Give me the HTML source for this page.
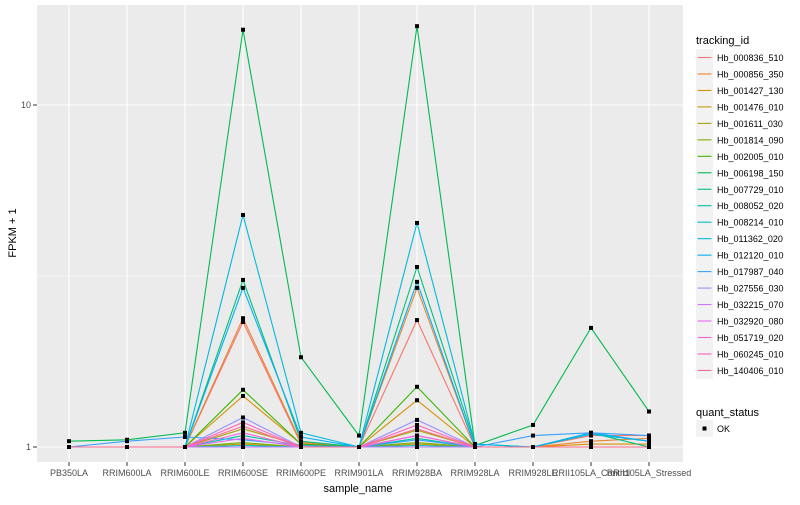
<!DOCTYPE html>
<html><head><meta charset="utf-8"><style>
body{margin:0;background:#fff;font-family:"Liberation Sans",sans-serif}
svg text{font-family:"Liberation Sans",sans-serif}
</style></head><body>
<svg id="chart" width="800" height="500" xmlns="http://www.w3.org/2000/svg">
<rect x="37" y="5" width="646" height="457" fill="#ebebeb"/>
<g id="grid"></g><g id="lines"></g><g id="pts"></g><g id="axes"></g><g id="legend"></g>
<text transform="translate(16,233) rotate(-90)" text-anchor="middle" font-size="11" fill="#000">FPKM + 1</text>
<text x="358" y="492" text-anchor="middle" font-size="11" fill="#000">sample_name</text>
</svg>
<script>
const categories=["PB350LA","RRIM600LA","RRIM600LE","RRIM600SE","RRIM600PE","RRIM901LA","RRIM928BA","RRIM928LA","RRIM928LE","RRII105LA_Control","RRII105LA_Stressed"];
const seriesNames=["Hb_000836_510","Hb_000856_350","Hb_001427_130","Hb_001476_010","Hb_001611_030","Hb_001814_090","Hb_002005_010","Hb_006198_150","Hb_007729_010","Hb_008052_020","Hb_008214_010","Hb_011362_020","Hb_012120_010","Hb_017987_040","Hb_027556_030","Hb_032215_070","Hb_032920_080","Hb_051719_020","Hb_060245_010","Hb_140406_010"];
const seriesColors=["#F8766D","#EA8331","#D89000","#C09B00","#A3A500","#7CAE00","#39B600","#00BB4E","#00BF7D","#00C1A3","#00BFC4","#00BAE0","#00B0F6","#35A2FF","#9590FF","#C77CFF","#E76BF3","#FA62DB","#FF62BC","#FF6C91"];
const s01=[1,1,1,2.32,1.02,1,2.35,1,1,1.08,1.08];
const s02=[1,1,1,2.38,1.03,1,2.92,1,1,1.04,1.06];
const s03=[1,1,1,1.41,1.02,1,1.37,1,1,1.02,1.02];
const s04=[1,1,1,1.02,1,1,1.02,1,1,1,1];
const s05=[1,1,1,1.13,1.01,1,1.12,1,1,1,1];
const s06=[1,1,1,1.03,1,1,1.03,1,1,1,1];
const s07=[1,1,1,1.47,1.02,1,1.50,1,1,1,1];
const s08=[1.04,1.05,1.10,16.6,1.83,1.08,17.0,1.01,1.16,2.23,1.27];
const s09=[1,1,1,3.08,1.04,1,3.36,1.02,1,1.10,1.0];
const s10=[1,1,1,1.08,1.01,1,1.06,1,1,1,1];
const s11=[1,1,1,1.01,1,1,1.01,1,1,1,1];
const s12=[1,1,1,4.77,1.1,1,4.52,1.02,1,1.09,1.04];
const s13=[1,1,1,2.92,1.07,1,3.04,1,1,1.1,1.04];
const s14=[1,1.04,1.07,1.05,1.01,1,1.05,1,1.08,1.1,1.08];
const s15=[1,1,1,1.22,1,1,1.20,1,1,1,1];
const s16=[1,1,1,1.0,1,1,1.0,1,1,1,1];
const s17=[1,1,1,1.06,1,1,1.08,1,1,1,1];
const s18=[1,1,1,1.10,1,1,1.08,1,1,1,1];
const s19=[1,1,1,1.18,1,1,1.16,1,1,1,1];
const s20=[1,1,1,1.15,1,1,1.13,1,1,1,1];
const seriesValues=[s01,s02,s03,s04,s05,s06,s07,s08,s09,s10,s11,s12,s13,s14,s15,s16,s17,s18,s19,s20];
const yTicks=[1,10];
const yTickLabels=["1","10"];
const NS="http://www.w3.org/2000/svg";
function xScale(i){return 69+i*58;}
function yScale(v){return 447-342*Math.log10(v);}
function mk(tag,attrs,parent){const e=document.createElementNS(NS,tag);for(const k in attrs)e.setAttribute(k,attrs[k]);parent.appendChild(e);return e;}
const grid=document.getElementById('grid'),lines=document.getElementById('lines'),pts=document.getElementById('pts'),axes=document.getElementById('axes'),leg=document.getElementById('legend');
// minor grid
let gl=mk('line',{x1:37,x2:683,y1:yScale(Math.sqrt(10)),y2:yScale(Math.sqrt(10)),stroke:'#fff','stroke-width':0.6},grid);


yTicks.forEach((t,i)=>{
  const y=yScale(t);
  let l=mk('line',{x1:37,x2:683,y1:y,y2:y,stroke:'#fff','stroke-width':1.1},grid);
  
  
  mk('line',{x1:33,x2:37,y1:y,y2:y,stroke:'#333','stroke-width':1},axes);
  let tx=mk('text',{x:31,y:y+3,'text-anchor':'end','font-size':9,fill:'#4d4d4d'},axes);
  tx.textContent=yTickLabels[i];
  
  
});
categories.forEach((c,i)=>{
  const x=xScale(i);
  let l=mk('line',{x1:x,x2:x,y1:5,y2:462,stroke:'#fff','stroke-width':1.1},grid);
  
  
  mk('line',{x1:x,x2:x,y1:462,y2:466,stroke:'#333','stroke-width':1},axes);
  let tx=mk('text',{x:x,y:476,'text-anchor':'middle','font-size':9,fill:'#4d4d4d'},axes);
  tx.textContent=c;
  
  
});
seriesValues.forEach((vals,si)=>{
  const d=vals.map((v,i)=>(i?'L':'M')+xScale(i).toFixed(1)+','+yScale(v).toFixed(1)).join(' ');
  let p=mk('path',{d:d,fill:'none',stroke:seriesColors[si],'stroke-width':1.1},lines);
  
  
  vals.forEach((v,i)=>{
    let r=mk('rect',{x:xScale(i)-2,y:yScale(v)-2,width:4,height:4,fill:'#000'},pts);
    
    
  });
});
// legend
let lt=mk('text',{x:696,y:44,'font-size':11,fill:'#000'},leg);
lt.textContent='tracking_id';


seriesNames.forEach((n,i)=>{
  const y=49+i*16.47;
  let g=mk('g',{},leg);
  
  
  mk('rect',{x:696,y:y,width:17,height:17,fill:'#f2f2f2'},g);
  mk('line',{x1:697.5,x2:711.5,y1:y+8.5,y2:y+8.5,stroke:seriesColors[i],'stroke-width':1.1},g);
  let t=mk('text',{x:717,y:y+12,'font-size':9,fill:'#000'},g);
  t.textContent=n;
});
let qt=mk('text',{x:696,y:416,'font-size':11,fill:'#000'},leg);
qt.textContent='quant_status';


let og=mk('g',{},leg);


mk('rect',{x:696,y:420,width:17,height:17,fill:'#f2f2f2'},og);
mk('rect',{x:702.5,y:426.5,width:4,height:4,fill:'#000'},og);
let ot=mk('text',{x:717,y:432,'font-size':9,fill:'#000'},og);
ot.textContent='OK';
</script>
</body></html>
